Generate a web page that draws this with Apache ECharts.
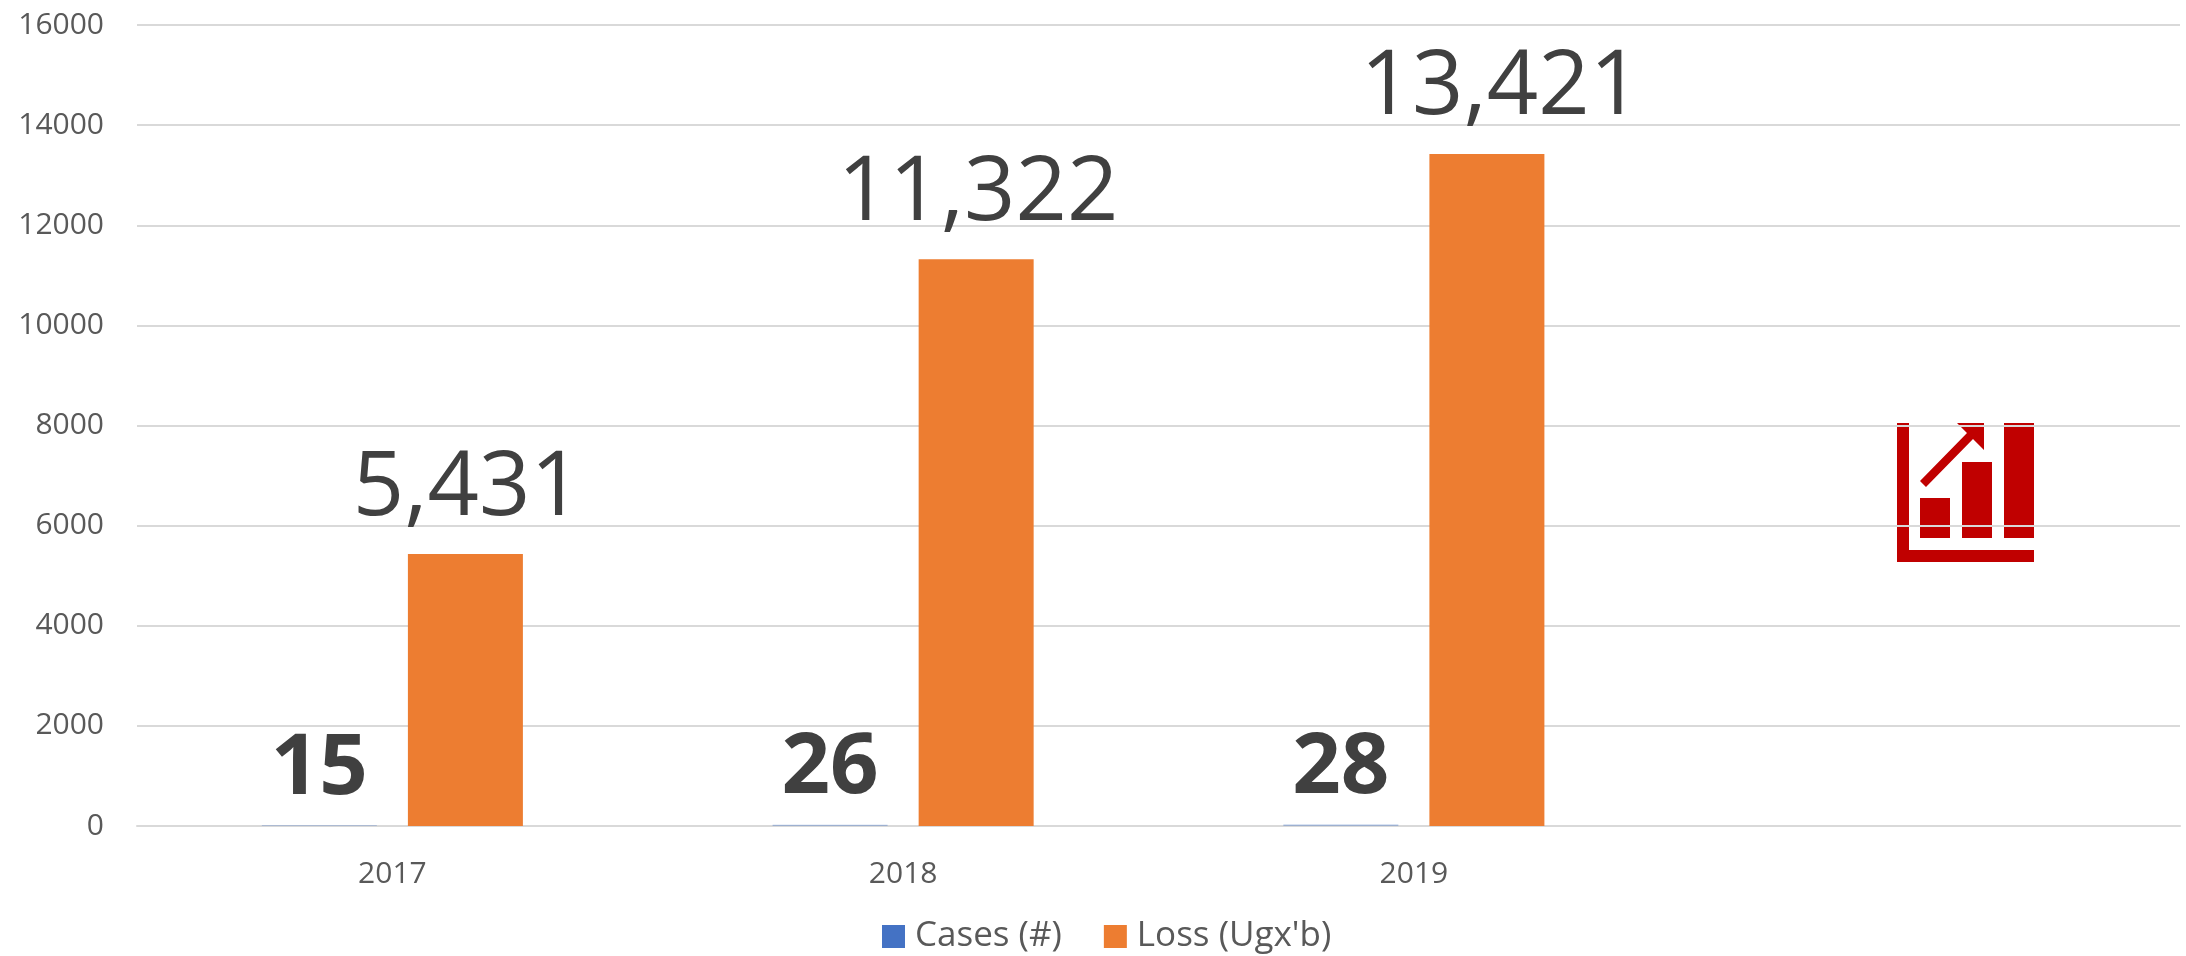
<!DOCTYPE html>
<html>
<head>
<meta charset="utf-8">
<style>html,body{margin:0;padding:0;background:#fff}#c{width:2186px;height:956px}</style>
<script src="https://cdn.jsdelivr.net/npm/echarts@6/dist/echarts.min.js"></script>
</head>
<body>
<div id="c"></div>
<script>
const categories = ['2017', '2018', '2019', ''];
const cases = [15, 26, 28, null];
const loss = [5431, 11322, 13421, null];
const seriesNames = ['Cases (#)', "Loss (Ugx'b)"];
const FONT = '"Open Sans","Noto Sans",sans-serif';
const RED = '#C00000';
const chart = echarts.init(document.getElementById('c'), null, {renderer: 'canvas'});
const r = (x, y, width, height) => ({type: 'rect', shape: {x, y, width, height}, style: {fill: RED}, silent: true});
chart.setOption({
  animation: false,
  backgroundColor: '#fff',
  textStyle: {fontFamily: FONT},
  grid: {left: 137, right: 6, top: 25, bottom: 130, containLabel: false},
  legend: {
    left: 882, top: 919, padding: 0, itemWidth: 23, itemHeight: 23, itemGap: 42, selectedMode: false, icon: 'rect',
    textStyle: {fontFamily: FONT, fontSize: 35, color: '#595959', padding: [0, 0, 0, 5]},
    data: [
      {name: seriesNames[0], itemStyle: {color: '#4472C4', opacity: 1}},
      {name: seriesNames[1], itemStyle: {color: '#ED7D31', opacity: 1}}
    ]
  },
  xAxis: {
    type: 'category', data: categories,
    axisLine: {lineStyle: {color: '#D9D9D9', width: 2}},
    axisTick: {show: false},
    axisLabel: {fontFamily: FONT, fontSize: 30, color: '#595959', margin: 33}
  },
  yAxis: {
    type: 'value', min: 0, max: 16000, interval: 2000,
    axisLine: {show: false}, axisTick: {show: false},
    splitLine: {lineStyle: {color: '#D9D9D9', width: 2}},
    axisLabel: {fontFamily: FONT, fontSize: 30, color: '#595959', margin: 33, formatter: v => String(v)}
  },
  series: [
    {
      name: seriesNames[0], type: 'bar', data: cases, barWidth: 115, barGap: '27%',
      itemStyle: {color: '#4472C4', opacity: 0.4},
      label: {show: true, position: 'top', distance: 13, fontFamily: FONT, fontSize: 85, fontWeight: 'bold', color: '#404040', opacity: 1}
    },
    {
      name: seriesNames[1], type: 'bar', barWidth: 115,
      data: loss.map((value, i) => i === 2 ? {value, label: {offset: [14, -1]}} : value),
      itemStyle: {color: '#ED7D31'},
      label: {show: true, position: 'top', distance: 20, offset: [2, 0], fontFamily: FONT, fontSize: 90, color: '#404040',
        formatter: p => p.value == null ? '' : Number(p.value).toLocaleString('en-US')}
    }
  ],
  graphic: [{
    type: 'group', left: 1897, top: 423, silent: true,
    children: [
      r(0, 0, 12, 139),
      r(0, 127, 137, 12),
      r(23, 75, 30, 40),
      r(65, 39, 30, 76),
      r(107, 0, 30, 115),
      {type: 'polygon', shape: {points: [[60,0],[87,0],[87,27],[76,16],[29,64],[23,58],[70,10]]}, style: {fill: RED}, silent: true}
    ]
  }]
});
</script>
</body>
</html>
